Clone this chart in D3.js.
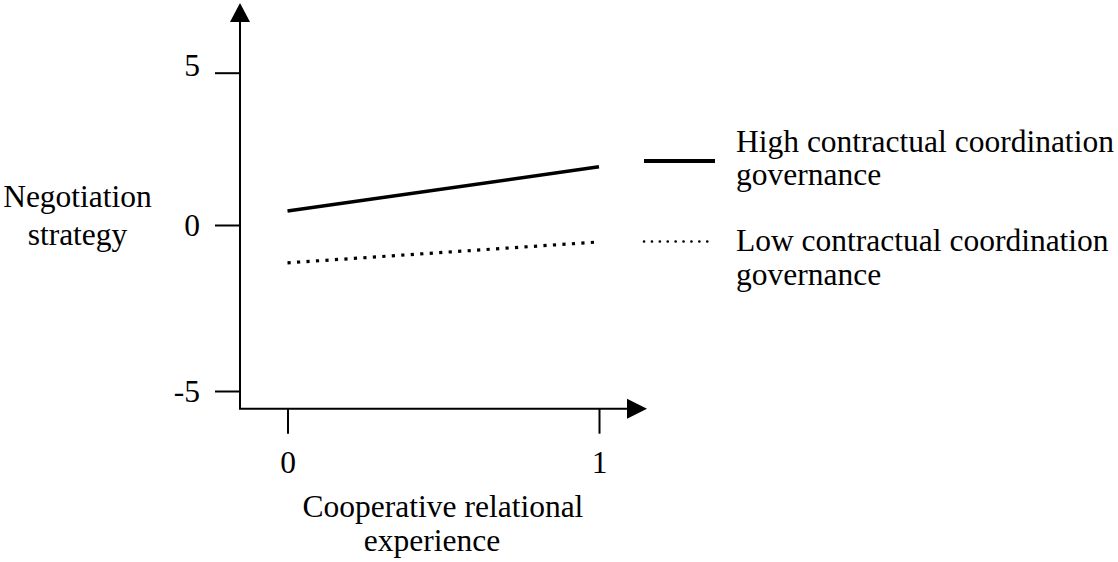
<!DOCTYPE html>
<html lang="en">
  <head>
    <meta charset="UTF-8" />
    <title>Negotiation strategy interaction</title>
    <script src="https://d3js.org/d3.v7.min.js"></script>
    <style>
      body {
        margin: 0;
        background: #fff;
      }
      svg text {
        font-family: "Liberation Serif", "Times New Roman", serif;
        font-size: 31.5px;
        fill: #000;
      }
      .tick line {
        stroke: #000;
        stroke-width: 2px;
      }
    </style>
  </head>
  <body>
    <svg id="chart" width="1118" height="562"></svg>

    <script>
      // data
      const xValues = [0, 1];
      const yTicks = [5, 0, -5];
      const highValues = [0.46, 1.91];
      const lowValues = [-1.14, -0.51];
      const seriesNames = [
        ["High contractual coordination", "governance"],
        ["Low contractual coordination", "governance"],
      ];
      const yTitle = ["Negotiation", "strategy"];
      const xTitle = ["Cooperative relational", "experience"];

      const svg = d3.select("#chart");

      // origin of the axes
      const ox = 240;
      const oy = 408.7;

      const x = d3.scaleLinear().domain([0, 1]).range([287.5, 599]);
      // the printed tick spacing is a little uneven, so use a piecewise scale
      const y = d3.scaleLinear().domain([-5, 0, 5]).range([391, 225, 72.7]);

      // Axes lines with arrowheads
      svg.append("line")
        .attr("x1", ox).attr("x2", ox)
        .attr("y1", oy).attr("y2", 20)
        .attr("stroke", "#000").attr("stroke-width", 2);
      svg.append("path")
        .attr("d", `M${ox},3 L${ox - 10},22 L${ox + 10},22 Z`)
        .attr("fill", "#000");

      svg.append("line")
        .attr("x1", ox - 1).attr("x2", 630)
        .attr("y1", oy).attr("y2", oy)
        .attr("stroke", "#000").attr("stroke-width", 2);
      svg.append("path")
        .attr("d", `M647,${oy} L627,${oy - 10} L627,${oy + 10} Z`)
        .attr("fill", "#000");

      // Ticks
      const yAxis = svg.append("g")
        .attr("transform", `translate(${ox},0)`)
        .call(
          d3.axisLeft(y)
            .tickValues(yTicks)
            .tickFormat((d) => String(d))
            .tickSize(25)
            .tickPadding(15)
        );
      yAxis.select(".domain").remove();
      // top label sits a little above its tick in the original
      yAxis.selectAll(".tick text")
        .filter((d) => d === 5)
        .attr("dy", "0.1em");

      const xAxis = svg.append("g")
        .attr("transform", `translate(0,${oy})`)
        .call(
          d3.axisBottom(x)
            .tickValues(xValues)
            .tickFormat((d) => String(d))
            .tickSize(25)
            .tickPadding(17)
        );
      xAxis.select(".domain").remove();

      // Lines
      const line = d3.line()
        .x((d, i) => x(xValues[i]))
        .y((d) => y(d));

      svg.append("path")
        .datum(highValues)
        .attr("fill", "none")
        .attr("stroke", "#000")
        .attr("stroke-width", 3.5)
        .attr("d", line);

      svg.append("path")
        .datum(lowValues)
        .attr("fill", "none")
        .attr("stroke", "#000")
        .attr("stroke-width", 3.2)
        .attr("stroke-dasharray", "3.2,6.3")
        .attr("d", line);

      // Legend
      const legend = svg.append("g");
      const legendRows = [
        { y: 161, width: 4, dash: null, cap: "butt", textY: 151.5 },
        { y: 241.5, width: 2.6, dash: "0.1,7.8", cap: "round", textY: 251 },
      ];
      legendRows.forEach((r, i) => {
        legend.append("line")
          .attr("x1", 644).attr("x2", 715)
          .attr("y1", r.y).attr("y2", r.y)
          .attr("stroke", "#000")
          .attr("stroke-width", r.width)
          .attr("stroke-linecap", r.cap)
          .attr("stroke-dasharray", r.dash);
        const t = legend.append("text")
          .attr("x", 736)
          .attr("y", r.textY);
        seriesNames[i].forEach((s, j) => {
          t.append("tspan")
            .attr("x", 736)
            .attr("dy", j === 0 ? 0 : 33.5)
            .text(s);
        });
      });

      // Axis titles
      const yt = svg.append("text")
        .attr("text-anchor", "middle")
        .attr("y", 207);
      yTitle.forEach((s, j) => {
        yt.append("tspan").attr("x", 77.5).attr("dy", j === 0 ? 0 : 37.5).text(s);
      });

      const xt = svg.append("text")
        .attr("text-anchor", "middle")
        .attr("y", 517);
      xTitle.forEach((s, j) => {
        xt.append("tspan")
          .attr("x", j === 0 ? 443 : 432)
          .attr("dy", j === 0 ? 0 : 34)
          .text(s);
      });
    </script>
  </body>
</html>
